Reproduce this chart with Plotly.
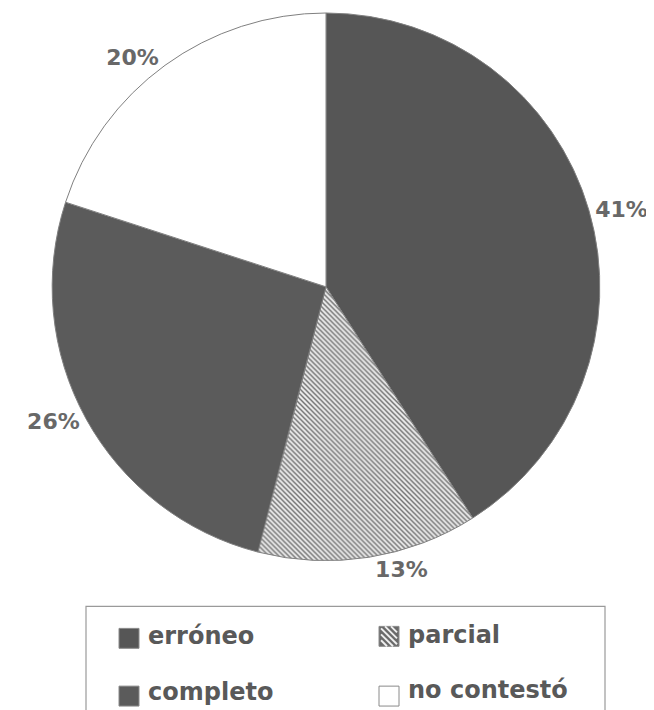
import plotly.graph_objects as go

labels = ["erróneo", "parcial", "completo", "no contestó"]
values = [41, 13, 26, 20]
colors = ["#565656", "#d8d8d8", "#5b5b5b", "#ffffff"]
patterns = ["", "\\", "", ""]

W, H = 654, 710
FONT = "DejaVu Sans"

fig = go.Figure()
fig.add_trace(go.Pie(
    labels=labels, values=values, sort=False, direction="clockwise", rotation=0,
    marker=dict(colors=colors, line=dict(color="#808080", width=1),
                pattern=dict(shape=patterns, fgcolor="#747474", bgcolor="#ebebeb",
                             size=3.5, solidity=0.42)),
    texttemplate="%{value}%", textposition="outside",
    textfont=dict(family=FONT, size=22, color="#686868", weight="bold"),
    showlegend=False, hoverinfo="label+percent",
    domain=dict(x=[43 / W, 593 / W], y=[1 - 552 / H, 1 - 2 / H]),
))

def px(x):
    return x / W

def py(y):
    return 1 - y / H

shapes = []
annotations = []
# legend border
shapes.append(dict(type="rect", xref="paper", yref="paper",
                   x0=px(78), x1=px(597), y0=py(708), y1=py(598),
                   line=dict(color="#9a9a9a", width=1.2), fillcolor="rgba(0,0,0,0)"))
# legend entries: (square left x, square center y, text center y)
pos = [(111, 630, 628), (371, 628, 627), (111, 688, 684), (371, 688, 682)]
sq = 20
for i, (lab, (sx, cy, ty)) in enumerate(zip(labels, pos)):
    fill = colors[i] if patterns[i] == "" else "#6a6a6a"
    shapes.append(dict(type="rect", xref="paper", yref="paper",
                       x0=px(sx), x1=px(sx + sq), y0=py(cy + sq / 2), y1=py(cy - sq / 2),
                       line=dict(color="#8a8a8a", width=1), fillcolor=fill))
    if patterns[i]:
        for k in range(-12, 14, 6):
            x0, y0 = sx + k, cy - sq / 2
            x1, y1 = sx + k + sq, cy + sq / 2
            if x0 < sx + 2:
                y0 += sx + 2 - x0
                x0 = sx + 2
            if x1 > sx + sq - 2:
                y1 -= x1 - (sx + sq - 2)
                x1 = sx + sq - 2
            if x1 - x0 < 2:
                continue
            shapes.append(dict(type="line", xref="paper", yref="paper",
                               x0=px(x0), y0=py(y0), x1=px(x1), y1=py(y1),
                               line=dict(color="#eeeeee", width=2)))
    annotations.append(dict(xref="paper", yref="paper", x=px(sx + sq + 7), y=py(ty),
                            xanchor="left", yanchor="middle", showarrow=False, text=lab,
                            font=dict(family=FONT, size=24, color="#595959", weight="bold")))

fig.update_layout(
    width=W, height=H, margin=dict(l=0, r=0, t=0, b=0),
    paper_bgcolor="white", plot_bgcolor="white",
    shapes=shapes, annotations=annotations,
)
fig.write_html("out.html")
